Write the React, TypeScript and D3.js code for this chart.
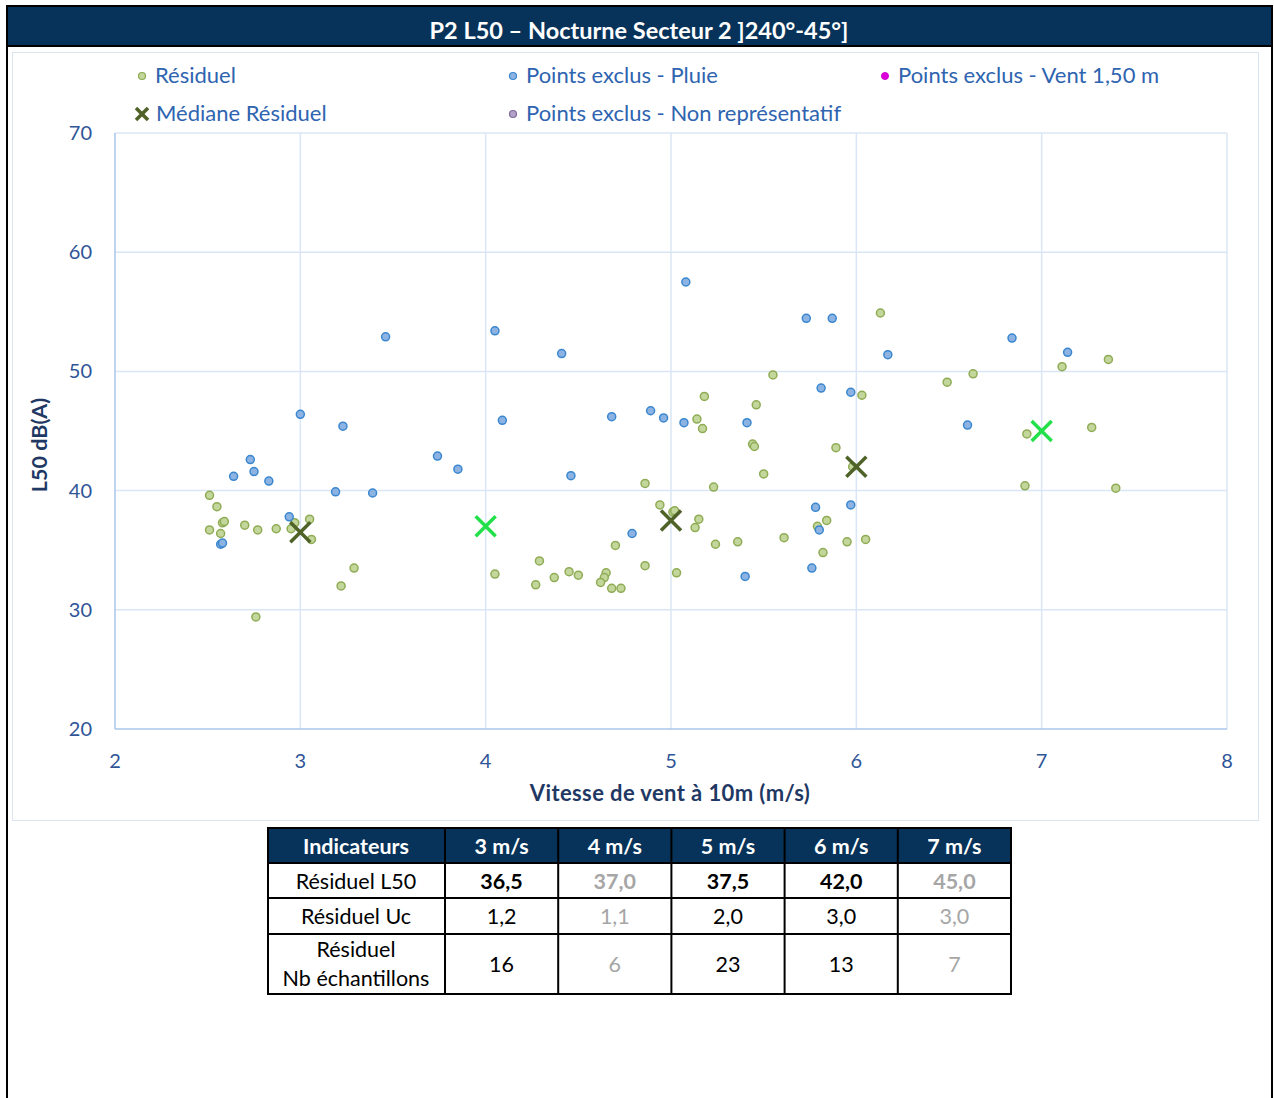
import React from 'react';
import * as d3 from 'd3';

// Résiduel points [wind speed m/s, L50 dB(A)]
const residuel: [number, number][] = [
  [2.51, 39.6], [2.55, 38.65], [2.58, 37.3], [2.59, 37.4], [2.51, 36.7], [2.57, 36.4],
  [2.7, 37.1], [2.77, 36.7], [2.87, 36.8], [2.97, 37.3], [2.95, 36.8], [3.05, 37.6],
  [3.06, 35.9], [3.29, 33.5], [3.22, 32.0], [2.76, 29.4],
  [4.05, 33.0], [4.29, 34.1], [4.27, 32.1], [4.37, 32.7], [4.45, 33.2], [4.5, 32.9],
  [4.65, 33.1], [4.64, 32.7], [4.62, 32.3], [4.68, 31.8], [4.73, 31.8], [4.86, 33.7],
  [5.03, 33.1], [4.7, 35.4], [4.86, 40.6], [4.94, 38.8], [5.01, 38.2], [5.02, 38.3],
  [5.15, 37.6], [5.13, 36.9], [5.18, 47.9], [5.14, 46.0], [5.17, 45.2], [5.23, 40.3],
  [5.24, 35.5], [5.36, 35.7], [5.46, 47.2], [5.44, 43.9], [5.45, 43.7], [5.5, 41.4],
  [5.55, 49.7], [6.13, 54.9], [6.03, 48.0], [5.89, 43.6], [5.98, 42.0], [5.61, 36.05],
  [5.79, 37.0], [5.84, 37.5], [5.95, 35.7], [6.05, 35.9], [5.82, 34.8], [6.49, 49.1],
  [6.63, 49.8], [7.11, 50.4], [7.36, 51.0], [6.92, 44.75], [7.27, 45.3], [6.91, 40.4],
  [7.4, 40.2],
];

// Points exclus - Pluie
const pluie: [number, number][] = [
  [2.73, 42.6], [2.75, 41.6], [2.64, 41.2], [2.83, 40.8], [3.19, 39.9], [3.39, 39.8],
  [2.94, 37.8], [2.57, 35.5], [2.58, 35.6], [3.23, 45.4], [3.0, 46.4], [3.46, 52.9],
  [4.05, 53.4], [5.08, 57.5], [4.41, 51.5], [4.09, 45.9], [3.74, 42.9], [3.85, 41.8],
  [4.46, 41.25], [4.68, 46.2], [4.89, 46.7], [4.96, 46.1], [5.07, 45.7], [4.79, 36.4],
  [5.73, 54.45], [5.87, 54.45], [6.17, 51.4], [5.81, 48.6], [5.97, 48.25], [5.41, 45.7],
  [5.78, 38.6], [5.97, 38.8], [5.8, 36.7], [5.76, 33.5], [5.4, 32.8], [6.84, 52.8],
  [7.14, 51.6], [6.6, 45.5],
];

const speeds = [3, 4, 5, 6, 7];
const medianL50 = [36.5, 37.0, 37.5, 42.0, 45.0];
const uncertainty = ['1,2', '1,1', '2,0', '3,0', '3,0'];
const sampleCounts = [16, 6, 23, 13, 7];
const validBins = [true, false, true, true, false];

const xTicks = [2, 3, 4, 5, 6, 7, 8];
const yTicks = [20, 30, 40, 50, 60, 70];

const FONT = 'Lato, "Open Sans", sans-serif';
const NAVY = '#07335a';
const TICK_BLUE = '#2f5597';
const TITLE_BLUE = '#1f3864';
const LEGEND_BLUE = '#2e64b0';

const Cross = ({ x, y, size, color, width }: { x: number; y: number; size: number; color: string; width: number }) => (
  <g stroke={color} strokeWidth={width} strokeLinecap="butt">
    <line x1={x - size} y1={y - size} x2={x + size} y2={y + size} />
    <line x1={x - size} y1={y + size} x2={x + size} y2={y - size} />
  </g>
);

export default function App() {
  const x = d3.scaleLinear().domain([2, 8]).range([115, 1227]);
  const y = d3.scaleLinear().domain([20, 70]).range([729, 133]);

  const cols = d3.scaleBand<number>().domain(speeds).range([445, 1011]);
  const rowTops = [828, 863, 898, 934, 994];
  const fmt = (v: number) => v.toFixed(1).replace('.', ',');

  return (
    <svg width={1274} height={1098} style={{ position: 'absolute', left: 0, top: 0, fontFamily: FONT }}>
      <rect width={1274} height={1098} fill="#fff" />
      {/* outer frame + title bar */}
      <rect x={7} y={6} width={1265} height={1100} fill="none" stroke="#000" strokeWidth={2} />
      <rect x={8} y={7} width={1263} height={39} fill={NAVY} />
      <line x1={7} x2={1272} y1={46} y2={46} stroke="#000" strokeWidth={2} />
      <text x={639} y={39} textAnchor="middle" fill="#fff" fontSize={23.5} fontWeight="bold">
        P2 L50 – Nocturne Secteur 2 ]240°-45°]
      </text>

      {/* chart frame */}
      <rect x={12.5} y={52.5} width={1246} height={768} fill="#fff" stroke="#dbe5f1" strokeWidth={1} />

      {/* legend */}
      <g fontSize={22} fill={LEGEND_BLUE}>
        <circle cx={142} cy={76} r={3.5} fill="#c3d69b" stroke="#8caa52" strokeWidth={1.2} />
        <text x={155} y={83}>Résiduel</text>
        <circle cx={513} cy={76} r={3.5} fill="#8db3e2" stroke="#3a87d0" strokeWidth={1.2} />
        <text x={526} y={83}>Points exclus - Pluie</text>
        <circle cx={885} cy={76} r={3.5} fill="#dd00dd" stroke="#cc00cc" strokeWidth={1} />
        <text x={898} y={83}>Points exclus - Vent 1,50 m</text>
        <Cross x={142} y={114} size={6} color="#4f6228" width={3.5} />
        <text x={156} y={121}>Médiane Résiduel</text>
        <circle cx={513} cy={114} r={3.5} fill="#b3a2c7" stroke="#7f6a9f" strokeWidth={1.2} />
        <text x={526} y={121}>Points exclus - Non représentatif</text>
      </g>

      {/* grid */}
      <g stroke="#dae6f5" strokeWidth={1.5}>
        {yTicks.filter(t => t > 20).map(t => (
          <line key={'h' + t} x1={x(2)} x2={x(8)} y1={y(t)} y2={y(t)} />
        ))}
        {xTicks.filter(t => t > 2).map(t => (
          <line key={'v' + t} x1={x(t)} x2={x(t)} y1={y(20)} y2={y(70)} />
        ))}
      </g>
      <g stroke="#a9c6ec" strokeWidth={1.5}>
        <line x1={x(2)} x2={x(2)} y1={y(20)} y2={y(70)} />
        <line x1={x(2)} x2={x(8)} y1={y(20)} y2={y(20)} />
      </g>

      {/* tick labels */}
      <g fontSize={20} fill={TICK_BLUE}>
        {yTicks.map(t => (
          <text key={'yt' + t} x={92} y={y(t) + 7} textAnchor="end">{t}</text>
        ))}
        {xTicks.map(t => (
          <text key={'xt' + t} x={x(t)} y={768} textAnchor="middle">{t}</text>
        ))}
      </g>

      {/* axis titles */}
      <text x={670} y={801} textAnchor="middle" fontSize={22} letterSpacing={0.4} fontWeight="bold" fill={TITLE_BLUE}>
        Vitesse de vent à 10m (m/s)
      </text>
      <text transform={`translate(47,445) rotate(-90)`} textAnchor="middle" fontSize={21.5} fontWeight="bold" fill={TITLE_BLUE}>
        L50 dB(A)
      </text>

      {/* points */}
      <g fill="#c3d69b" stroke="#8fac55" strokeWidth={1.5}>
        {residuel.map(([a, b], i) => (
          <circle key={'r' + i} cx={x(a)} cy={y(b)} r={4} />
        ))}
      </g>
      <g fill="#8db3e2" stroke="#3a87d0" strokeWidth={1.5}>
        {pluie.map(([a, b], i) => (
          <circle key={'p' + i} cx={x(a)} cy={y(b)} r={4} />
        ))}
      </g>

      {/* medians */}
      {speeds.map((s, i) => (
        <Cross
          key={'m' + s}
          x={x(s)}
          y={y(medianL50[i])}
          size={10}
          color={validBins[i] ? '#4f6228' : '#22e04a'}
          width={3.5}
        />
      ))}

      {/* table */}
      <g fontSize={21.5}>
        <rect x={268} y={rowTops[0]} width={743} height={rowTops[1] - rowTops[0]} fill={NAVY} />
        <text x={356} y={854} textAnchor="middle" fill="#fff" fontWeight="bold">Indicateurs</text>
        {speeds.map(s => (
          <text key={'th' + s} x={(cols(s) ?? 0) + cols.bandwidth() / 2} y={854} textAnchor="middle" fill="#fff" fontWeight="bold">
            {s} m/s
          </text>
        ))}
        <text x={356} y={889} textAnchor="middle" fill="#000">Résiduel L50</text>
        <text x={356} y={924} textAnchor="middle" fill="#000">Résiduel Uc</text>
        <text x={356} y={957} textAnchor="middle" fill="#000">Résiduel</text>
        <text x={356} y={986} textAnchor="middle" fill="#000">Nb échantillons</text>
        {speeds.map((s, i) => {
          const cx = (cols(s) ?? 0) + cols.bandwidth() / 2;
          const c = validBins[i] ? '#000' : '#a6a6a6';
          return (
            <g key={'td' + s} fill={c} textAnchor="middle">
              <text x={cx} y={889} fontWeight="bold">{fmt(medianL50[i])}</text>
              <text x={cx} y={924}>{uncertainty[i]}</text>
              <text x={cx} y={972}>{sampleCounts[i]}</text>
            </g>
          );
        })}
        <g stroke="#000" strokeWidth={2} fill="none">
          <rect x={268} y={rowTops[0]} width={743} height={rowTops[4] - rowTops[0]} />
          {rowTops.slice(1, 4).map(t => (
            <line key={'rl' + t} x1={268} x2={1011} y1={t} y2={t} />
          ))}
          {[445, ...speeds.slice(1).map(s => cols(s) ?? 0)].map(cx => (
            <line key={'cl' + cx} x1={cx} x2={cx} y1={rowTops[0]} y2={rowTops[4]} />
          ))}
        </g>
      </g>
    </svg>
  );
}
